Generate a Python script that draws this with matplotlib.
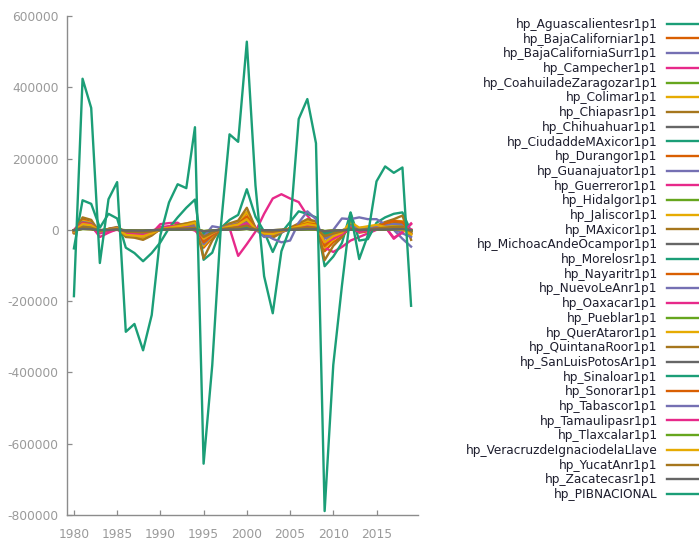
import numpy as np
import matplotlib
matplotlib.use("Agg")
from matplotlib import pyplot as plt

# Años
years = np.arange(1980, 2020)

# Nombres de las series (orden de la leyenda)
nombres = [
    'hp_Aguascalientesr1p1', 'hp_BajaCaliforniar1p1', 'hp_BajaCaliforniaSurr1p1',
    'hp_Campecher1p1', 'hp_CoahuiladeZaragozar1p1', 'hp_Colimar1p1',
    'hp_Chiapasr1p1', 'hp_Chihuahuar1p1', 'hp_CiudaddeMAxicor1p1',
    'hp_Durangor1p1', 'hp_Guanajuator1p1', 'hp_Guerreror1p1', 'hp_Hidalgor1p1',
    'hp_Jaliscor1p1', 'hp_MAxicor1p1', 'hp_MichoacAndeOcampor1p1',
    'hp_Morelosr1p1', 'hp_Nayaritr1p1', 'hp_NuevoLeAnr1p1', 'hp_Oaxacar1p1',
    'hp_Pueblar1p1', 'hp_QuerAtaror1p1', 'hp_QuintanaRoor1p1',
    'hp_SanLuisPotosAr1p1', 'hp_Sinaloar1p1', 'hp_Sonorar1p1', 'hp_Tabascor1p1',
    'hp_Tamaulipasr1p1', 'hp_Tlaxcalar1p1', 'hp_VeracruzdeIgnaciodelaLlave',
    'hp_YucatAnr1p1', 'hp_Zacatecasr1p1', 'hp_PIBNACIONAL',
]

# Valores en miles
aguascalientes = [-3, 8, 6, -2, 1, 3, -4, -5, -6, -3, 0, 2, 3, 4, 5, -8, -4, 1, 3, 4, 8, 1, -2, -4, -1, 1, 3, 5, 4, -9, -6, -3, 2, -1, 0, 3, 5, 6, 5, -2]
baja_california = [-8, 30, 22, -6, 2, 6, -14, -16, -20, -12, 2, 6, 8, 10, 14, -50, -22, 2, 14, 22, 48, 5, -14, -18, -6, 4, 14, 22, 18, -60, -35, -18, 8, -8, -4, 8, 16, 22, 20, -12]
baja_california_sur = [-2, 5, 4, -1, 0, 1, -2, -3, -4, -2, 0, 1, 2, 2, 3, -6, -3, 0, 2, 3, 5, 1, -1, -3, -1, 1, 2, 4, 3, -7, -4, -2, 1, -1, 0, 2, 3, 4, 4, -2]
campeche = [0, 25, 12, -20, -8, 2, -15, -18, -20, -10, 16, 19, 20, 5, -2, -25, -15, 0, 5, -73, -40, -5, 45, 88, 100, 88, 78, 40, 10, -50, -62, -48, -30, -20, -10, 0, 10, -25, -5, 18]
coahuila = [-4, 15, 12, -8, 2, 5, -8, -10, -12, -6, 1, 4, 6, 8, 10, -22, -10, 3, 8, 12, 24, 2, -6, -8, -2, 3, 8, 12, 10, -38, -20, -8, 6, -2, 0, 5, 8, 12, 10, -6]
colima = [-1, 3, 2, -1, 0, 1, -2, -2, -3, -2, 0, 1, 1, 2, 2, -4, -2, 0, 1, 2, 4, 0, -1, -2, -1, 0, 1, 2, 2, -4, -2, -1, 1, 0, 0, 1, 2, 2, 2, -1]
chiapas = [-5, 18, 14, -4, 2, 4, -10, -12, -15, -8, 2, 5, 6, 8, 10, -30, -12, 2, 8, 12, 25, 2, -8, -12, -4, 2, 8, 12, 10, -40, -22, -10, 5, -4, -2, 6, 12, 18, 20, -10]
chihuahua = [-2, 6, 5, -2, 1, 2, -4, -4, -5, -3, 1, 2, 3, 3, 4, -8, -4, 1, 3, 4, 7, 1, -2, -3, -1, 1, 3, 4, 3, -9, -6, -3, 2, -1, 0, 2, 3, 4, 4, -2]
cdmx = [-52, 83, 73, 6, 45, 32, -50, -65, -88, -65, -35, 5, 35, 62, 85, -84, -64, 5, 28, 42, 114, 37, -5, -62, -8, 22, 52, 45, 35, -102, -75, -37, 49, -30, -26, 20, 35, 45, 49, -5]
durango = [-2, 6, 5, -2, 0, 1, -3, -4, -5, -3, 0, 1, 2, 2, 3, -8, -4, 0, 2, 3, 6, 0, -2, -3, -1, 1, 2, 4, 3, -9, -5, -2, 1, -1, 0, 2, 3, 4, 4, -2]
guanajuato = [-4, 14, 11, -5, 1, 4, -9, -10, -12, -7, 1, 4, 6, 7, 9, -28, -12, 3, 9, 13, 30, 3, -8, -10, -3, 3, 9, 14, 11, -35, -18, -7, 7, -2, 1, 8, 12, 16, 14, -8]
guerrero = [-2, 5, 4, -8, -3, 0, -6, -7, -8, -4, 6, 8, 8, 3, 1, -12, -6, 0, 2, 4, 6, 0, -3, -4, -1, 1, 3, 5, 4, -12, -10, -6, 2, -2, -1, 2, 4, 3, 3, 1]
hidalgo = [-2, 6, 5, -2, 0, 2, -4, -4, -5, -3, 0, 2, 2, 3, 4, -10, -5, 1, 3, 4, 8, 1, -2, -3, -1, 1, 3, 4, 4, -10, -6, -3, 2, -1, 0, 2, 3, 4, 4, -2]
jalisco = [-8, 25, 20, -6, 2, 6, -18, -20, -24, -14, 2, 8, 12, 18, 24, -45, -18, 4, 14, 22, 50, 4, -12, -16, -6, 4, 14, 24, 18, -50, -28, -10, 14, -4, -2, 10, 18, 26, 24, -14]
mexico = [-10, 35, 28, -8, 3, 8, -20, -22, -28, -16, 3, 10, 14, 18, 22, -80, -30, 5, 18, 26, 62, 6, -16, -22, -8, 6, 18, 30, 24, -85, -45, -20, 14, -6, -2, 12, 22, 30, 40, -28]
michoacan = [-2, 5, 4, -2, 0, 2, -3, -4, -5, -3, 0, 2, 2, 3, 3, -8, -4, 1, 2, 3, 6, 1, -2, -3, -1, 1, 2, 3, 3, -8, -5, -2, 2, -1, 0, 2, 3, 3, 3, -2]
morelos = [-1, 4, 3, -1, 0, 1, -2, -3, -3, -2, 0, 1, 1, 2, 2, -6, -3, 0, 1, 2, 4, 0, -1, -2, -1, 0, 1, 2, 2, -5, -3, -1, 1, 0, 0, 1, 2, 2, 2, -1]
nayarit = [-1, 3, 2, -1, 0, 1, -2, -2, -2, -1, 0, 1, 1, 1, 2, -4, -2, 0, 1, 1, 3, 0, -1, -1, 0, 0, 1, 2, 1, -4, -2, -1, 1, 0, 0, 1, 1, 2, 2, -1]
nuevo_leon = [-6, 22, 18, -6, 2, 6, -14, -16, -18, -10, 2, 6, 10, 12, 15, -40, -15, 4, 12, 18, 35, 5, -10, -25, -35, -30, 20, 52, 30, -40, 0, 32, 30, 35, 30, 30, 15, 0, -25, -47]
oaxaca = [-2, 6, 5, -6, -2, 1, -5, -6, -7, -4, 4, 6, 6, 2, 1, -10, -5, 0, 2, 3, 6, 0, -2, -3, -1, 1, 3, 4, 3, -10, -8, -5, 2, -2, -1, 2, 3, 2, 3, 1]
puebla = [-3, 10, 8, -3, 1, 3, -6, -7, -8, -5, 1, 3, 4, 5, 7, -18, -8, 2, 6, 9, 18, 2, -5, -7, -2, 2, 6, 9, 7, -22, -12, -5, 4, -2, 0, 4, 6, 9, 8, -5]
queretaro = [-2, 7, 6, -2, 0, 2, -5, -5, -6, -4, 1, 2, 3, 4, 6, -12, -6, 1, 4, 6, 12, 1, -4, -5, -2, 2, 4, 7, 6, -18, -8, -2, 8, -3, 2, 6, 8, 10, 8, -4]
quintana_roo = [-1, 4, 3, -1, 0, 2, -2, -3, -4, -2, 1, 2, 3, 4, 5, -12, -6, 1, 3, 5, 8, 1, -2, -4, -1, 2, 4, 6, 5, -14, -8, -3, 3, -1, 1, 4, 6, 8, 8, -4]
san_luis = [-2, 5, 4, -1, 0, 1, -3, -4, -4, -2, 0, 1, 2, 2, 3, -8, -4, 1, 2, 3, 6, 0, -2, -3, -1, 1, 2, 3, 3, -8, -5, -2, 1, -1, 0, 2, 3, 3, 3, -2]
sinaloa = [-2, 8, 6, -2, 0, 2, -4, -5, -6, -3, 0, 2, 3, 3, 4, -10, -5, 1, 3, 5, 8, 1, -2, -4, -1, 1, 3, 5, 4, -10, -6, -3, 2, -1, 0, 3, 4, 5, 5, -2]
sonora = [-6, 20, 16, -4, 2, 5, -12, -14, -16, -10, 2, 5, 8, 10, 12, -35, -15, 3, 10, 16, 38, 3, -10, -14, -4, 4, 12, 18, 15, -45, -22, -8, 10, -4, -2, 8, 18, 25, 22, -10]
tabasco = [-4, 15, 12, -5, 1, 3, -10, -12, -12, -6, 2, 4, 6, 8, 10, -20, 10, 6, 8, 10, 20, 2, -20, -12, -6, 2, 8, 12, 8, -25, -15, -5, 10, 5, 8, 10, 6, 2, -10, -20]
tamaulipas = [-4, 18, 14, -10, -2, 3, -10, -12, -14, -8, 8, 10, 10, 6, 4, -25, -10, 2, 6, 10, 18, 2, -8, -10, -4, 2, 8, 12, 10, -35, -25, -12, 6, -6, -2, 4, 8, -22, -8, 16]
tlaxcala = [-1, 2, 2, -1, 0, 1, -1, -2, -2, -1, 0, 1, 1, 1, 1, -3, -2, 0, 1, 1, 2, 0, -1, -1, 0, 0, 1, 1, 1, -3, -2, -1, 1, 0, 0, 1, 1, 1, 1, -1]
veracruz = [-5, 16, 13, -4, 1, 4, -14, -16, -18, -10, 2, 6, 10, 14, 20, -25, -10, 3, 10, 15, 30, 2, -10, -12, -4, 3, 10, 16, 12, -35, -18, -8, 22, 6, 10, 14, 8, 4, 0, -12]
yucatan = [-2, 8, 6, -2, 0, 2, -5, -6, -7, -4, 1, 3, 4, 5, 6, -20, -8, 2, 5, 7, 12, 1, -4, -5, -2, 2, 5, 7, 6, -18, -10, -4, 4, -1, 1, 4, 6, 8, 8, -4]
zacatecas = [-1, 3, 2, -1, 0, 1, -2, -2, -2, -1, 0, 1, 1, 1, 2, -4, -2, 0, 1, 1, 3, 0, -1, -1, 0, 0, 1, 2, 2, -4, -2, -1, 1, 0, 0, 1, 1, 2, 2, -1]
pib_nacional = [-186, 424, 342, -93, 86, 134, -286, -264, -338, -239, -15, 77, 128, 117, 288, -656, -380, 10, 268, 247, 528, 125, -130, -234, -60, 5, 311, 367, 243, -789, -379, -157, 47, -82, -15, 136, 178, 160, 175, -213]

series = [
    aguascalientes, baja_california, baja_california_sur, campeche, coahuila,
    colima, chiapas, chihuahua, cdmx, durango, guanajuato, guerrero, hidalgo,
    jalisco, mexico, michoacan, morelos, nayarit, nuevo_leon, oaxaca, puebla,
    queretaro, quintana_roo, san_luis, sinaloa, sonora, tabasco, tamaulipas,
    tlaxcala, veracruz, yucatan, zacatecas, pib_nacional,
]

# Paleta Dark2 (se repite cada 8 series)
colores = ['#1b9e77', '#d95f02', '#7570b3', '#e7298a',
           '#66a61e', '#e6ab02', '#a6761d', '#666666']

fig = plt.figure(figsize=(6.99, 5.39), dpi=100)
ax = fig.add_axes([67 / 699, 1 - 515 / 539, (418 - 67) / 699, (515 - 16) / 539])

lineas = []
for i, (nombre, valores) in enumerate(zip(nombres, series)):
    linea, = ax.plot(years, np.array(valores) * 1000, color=colores[i % 8],
                     linewidth=1.7, label=nombre)
    lineas.append(linea)

ax.set_xlim(1979.2, 2019.8)
ax.set_ylim(-800000, 600000)
ax.set_xticks(np.arange(1980, 2020, 5))
ax.set_yticks(np.arange(-800000, 600001, 200000))
ax.yaxis.set_major_formatter(matplotlib.ticker.FormatStrFormatter('%d'))

for lado in ('top', 'right'):
    ax.spines[lado].set_visible(False)
for lado in ('left', 'bottom'):
    ax.spines[lado].set_color('#8c8c8c')
    ax.spines[lado].set_linewidth(1.0)

ax.tick_params(axis='both', direction='in', length=3.6, width=0.9,
               color='#8c8c8c', labelcolor='#9a9a9a', labelsize=8.8)
ax.tick_params(axis='x', pad=9)
ax.tick_params(axis='y', pad=6)

# Leyenda a la derecha, texto alineado a la derecha
ax.legend(handles=lineas, loc='upper right', bbox_to_anchor=(703 / 699, 1 - 18 / 539),
          bbox_transform=fig.transFigure, frameon=False, markerfirst=False,
          fontsize=8.7, handlelength=3.0, handletextpad=0.75, labelspacing=0.14,
          borderpad=0, borderaxespad=0, labelcolor='#1e1e2e')

fig.savefig('out.png', dpi=100)
